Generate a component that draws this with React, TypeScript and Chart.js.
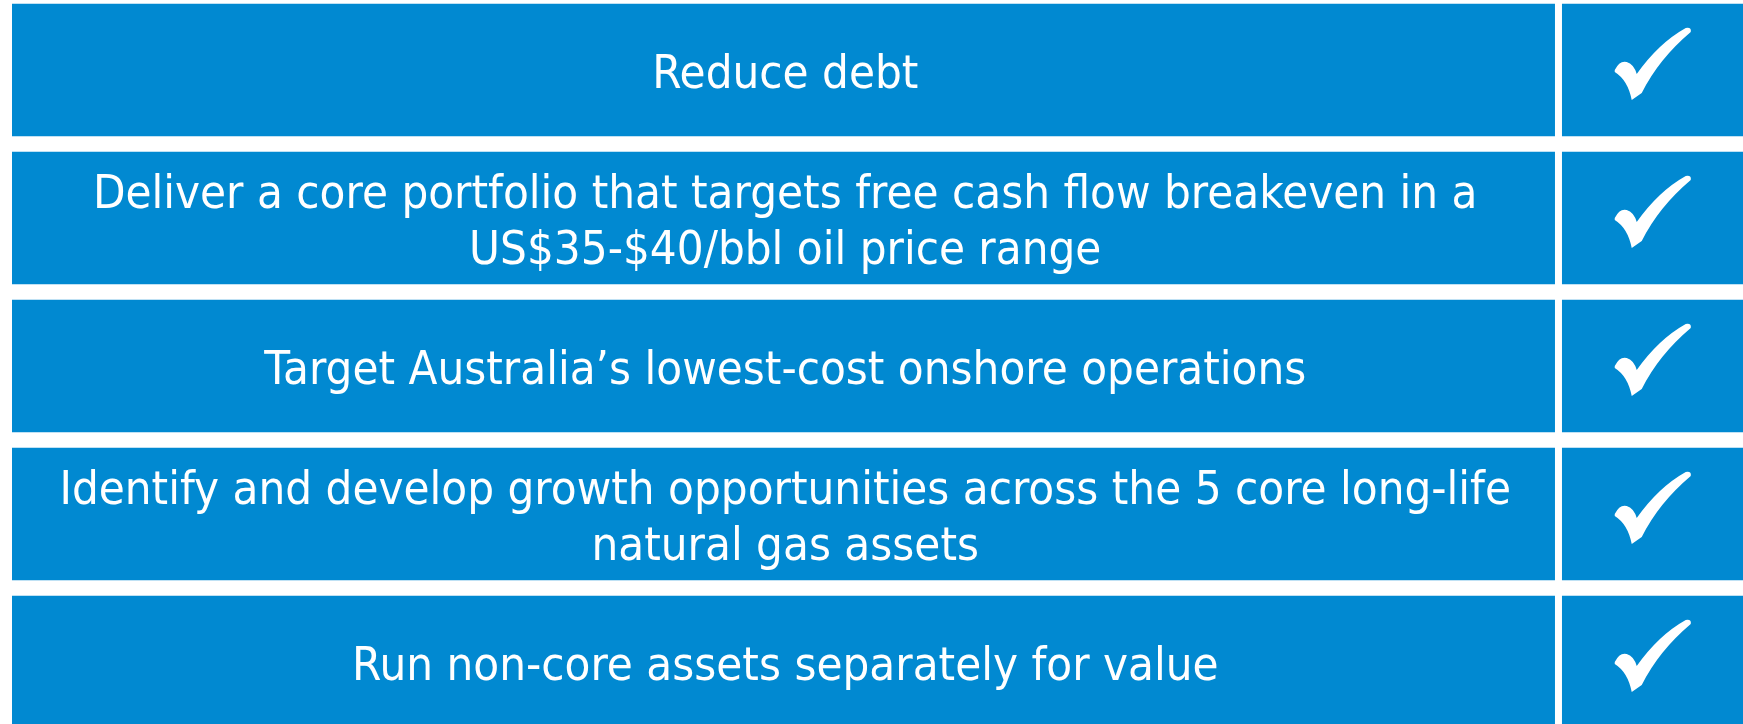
import React, { useEffect, useRef } from "react";
import { Chart, registerables } from "chart.js";

Chart.register(...registerables);

const categories = [
  "Reduce debt",
  "Deliver a core portfolio that targets free cash flow breakeven in a US$35-$40/bbl oil price range",
  "Target Australia’s lowest-cost onshore operations",
  "Identify and develop growth opportunities across the 5 core long-life natural gas assets",
  "Run non-core assets separately for value",
];

const statementLines: string[][] = [
  ["Reduce debt"],
  ["Deliver a core portfolio that targets free cash flow breakeven in a", "US$35-$40/bbl oil price range"],
  ["Target Australia’s lowest-cost onshore operations"],
  ["Identify and develop growth opportunities across the 5 core long-life", "natural gas assets"],
  ["Run non-core assets separately for value"],
];

const statementColumn = [89.34, 89.34, 89.34, 89.34, 89.34];
const statusColumn = [10.66, 10.66, 10.66, 10.66, 10.66];
const achieved = [true, true, true, true, true];

const BLUE = "#0189D1";

const overlayPlugin = {
  id: "overlay",
  afterDatasetsDraw(chart: any) {
    const ctx = chart.ctx as CanvasRenderingContext2D;
    const left = chart.getDatasetMeta(0).data;
    const right = chart.getDatasetMeta(1).data;
    ctx.save();
    ctx.fillStyle = "#ffffff";
    const fontSize = 47;
    ctx.font = `${fontSize}px "DejaVu Sans"`;
    ctx.textAlign = "center";
    ctx.textBaseline = "alphabetic";
    const capH = fontSize * 0.729;
    const lineGap = 56;
    const sx = 0.9;
    left.forEach((bar: any, i: number) => {
      const { x, base, y } = bar.getProps(["x", "base", "y"], true);
      const cx = (Math.min(x, base) + Math.max(x, base)) / 2;
      const lines = statementLines[i];
      const n = lines.length;
      lines.forEach((ln, j) => {
        const mid = y + (j - (n - 1) / 2) * lineGap;
        const baseline = mid + capH / 2 + 1;
        ctx.save();
        ctx.translate(cx, baseline);
        ctx.scale(sx, 1);
        ctx.fillText(ln, 0, 0);
        ctx.restore();
      });
    });
    right.forEach((bar: any, i: number) => {
      if (!achieved[i]) return;
      const { x, base, y, height } = bar.getProps(["x", "base", "y", "height"], true);
      const cx = (x + base) / 2 + 2;
      const cy = y - 7;
      const s = height / 133;
      ctx.save();
      ctx.translate(cx, cy);
      ctx.scale(s, s);
      ctx.beginPath();
      ctx.moveTo(-38, 7);
      ctx.quadraticCurveTo(-33, -3, -26, -1);
      ctx.quadraticCurveTo(-19, 1, -16, 11);
      ctx.quadraticCurveTo(6, -20, 33, -35);
      ctx.quadraticCurveTo(39, -36, 38, -31);
      ctx.quadraticCurveTo(6, -4, -11, 30);
      ctx.lineTo(-21, 37);
      ctx.quadraticCurveTo(-25, 17, -38, 9);
      ctx.closePath();
      ctx.fill();
      ctx.restore();
    });
    ctx.restore();
  },
};

export default function App() {
  const ref = useRef<HTMLCanvasElement>(null);
  useEffect(() => {
    if (!ref.current) return;
    const chart = new Chart(ref.current, {
      type: "bar",
      data: {
        labels: categories,
        datasets: [
          {
            label: "Objective",
            data: statementColumn,
            backgroundColor: BLUE,
            borderColor: "#ffffff",
            borderWidth: { top: 0, bottom: 0, left: 0, right: 3.5 },
            borderSkipped: false,
            inflateAmount: 0,
            barPercentage: 133 / 148,
            categoryPercentage: 1,
          },
          {
            label: "Status",
            data: statusColumn,
            backgroundColor: BLUE,
            borderColor: "#ffffff",
            borderWidth: { top: 0, bottom: 0, left: 3.5, right: 0 },
            borderSkipped: false,
            inflateAmount: 0,
            barPercentage: 133 / 148,
            categoryPercentage: 1,
          },
        ],
      },
      options: {
        indexAxis: "y",
        animation: false,
        responsive: false,
        devicePixelRatio: 1,
        layout: { padding: { left: 12, right: 0, top: 0, bottom: 0 } },
        plugins: { legend: { display: false }, tooltip: { enabled: false } },
        scales: {
          x: { display: false, stacked: true, min: 0, max: 100 },
          y: { display: false, stacked: true, offset: true, grid: { display: false } },
        },
      } as any,
      plugins: [overlayPlugin],
    });
    return () => chart.destroy();
  }, []);
  return (
    <div style={{ position: "fixed", left: 0, top: -4, width: 1743, height: 740, background: "#fff" }}>
      <canvas ref={ref} width={1743} height={740} style={{ display: "block", width: 1743, height: 740 }} />
    </div>
  );
}
